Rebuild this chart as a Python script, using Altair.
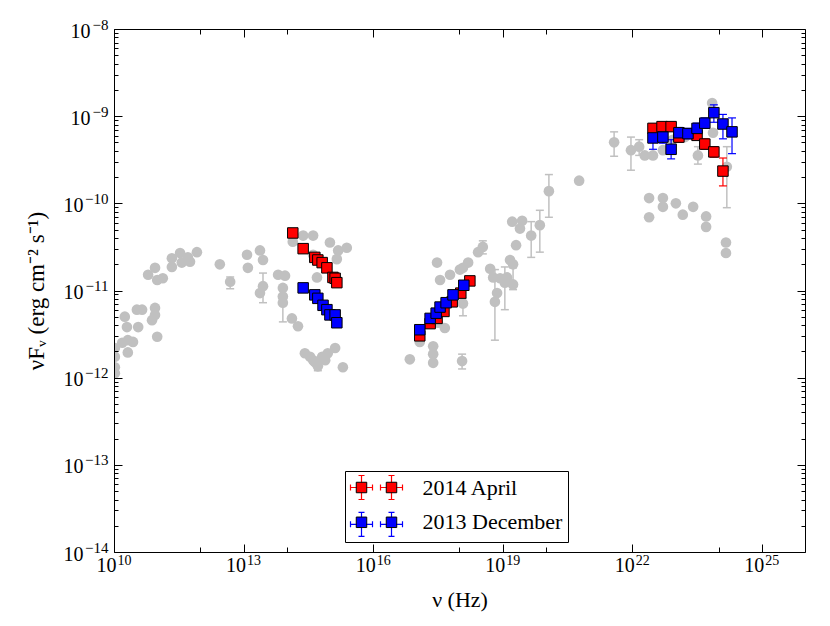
import altair as alt
import pandas as pd

# ---------------- data (log10 of nu [Hz] and log10 of nuFnu [erg cm^-2 s^-1]) ----------------
gray_lognu = [10.02, 10.02, 10.02, 10.02, 10.19, 10.32, 10.44, 10.32, 10.25, 10.30,
              10.53, 10.65, 10.56, 10.95, 10.95, 10.88, 11.00, 10.79, 10.95, 11.00,
              11.13, 11.34, 11.34, 11.53, 11.57, 11.71, 11.92, 11.76, 12.45, 12.69,
              13.08, 13.10, 13.38, 13.45, 13.45, 13.38, 13.80, 13.96, 13.91, 13.91,
              13.91, 14.12, 14.26, 14.14, 14.38, 14.61, 14.61, 14.70, 15.00, 15.19,
              15.39, 15.16, 14.42, 14.54, 14.65, 14.72, 14.82, 14.95, 15.12, 15.30,
              14.61, 14.89, 16.85, 17.08, 17.39, 17.39, 17.39, 18.06, 17.66, 17.50,
              18.08, 17.48, 17.55, 17.78, 18.01, 18.08, 18.20, 18.43, 18.54, 18.71,
              18.78, 18.94, 19.10, 19.05, 19.24, 18.87, 18.82, 19.17, 19.24, 19.31,
              19.22, 19.45, 19.40, 19.66, 19.86, 20.07, 20.77, 21.58, 21.97, 22.16,
              22.29, 22.48, 22.71, 23.85, 23.87, 23.52, 24.19, 22.39, 22.71, 22.71,
              23.01, 23.17, 23.41, 23.71, 23.71, 22.39, 24.17, 24.17, 23.22, 22.94]
gray_logf = [-11.66, -11.76, -11.88, -11.95, -11.60, -11.57, -11.59, -11.71, -11.30, -11.42,
             -11.22, -11.22, -11.42, -11.20, -11.28, -11.34, -11.53, -10.82, -10.74, -10.88,
             -10.86, -10.63, -10.73, -10.57, -10.68, -10.62, -10.56, -10.67, -10.70, -10.90,
             -10.59, -10.74, -10.54, -10.65, -10.95, -11.03, -10.82, -10.83, -10.97, -11.07,
             -11.14, -11.32, -11.41, -10.44, -10.37, -10.37, -10.59, -10.85, -10.45, -10.54,
             -10.51, -10.64, -11.72, -11.76, -11.82, -11.87, -11.76, -11.72, -11.66, -11.88,
             -11.80, -11.80, -11.79, -11.59, -11.64, -11.73, -11.83, -11.81, -11.43, -11.37,
             -11.15, -10.68, -10.88, -10.82, -10.76, -10.74, -10.68, -10.56, -10.50, -10.75,
             -10.85, -10.86, -10.85, -10.91, -10.93, -11.03, -11.13, -10.65, -10.70, -10.48,
             -10.21, -10.20, -10.29, -10.37, -10.25, -9.86, -9.74, -9.30, -9.39, -9.35,
             -9.45, -9.45, -9.39, -8.85, -9.19, -9.45, -9.58, -9.94, -9.94, -10.04,
             -10.00, -10.13, -10.04, -10.15, -10.27, -10.16, -10.45, -10.57, -9.24, -9.27]

gray_eb_lognu = [12.69, 13.45, 13.91, 14.72, 18.06, 18.08, 18.54, 19.05, 19.24, 18.82,
                 19.66, 19.86, 20.07, 21.58, 21.97, 22.16, 23.52, 24.19]
gray_eb_lo = [-10.98, -11.14, -11.36, -11.92, -11.90, -11.29, -10.58, -11.22, -10.99, -11.57,
              -10.62, -10.56, -10.16, -9.46, -9.62, -9.45, -9.55, -10.05]
gray_eb_hi = [-10.845, -10.80, -10.99, -11.82, -11.73, -11.09, -10.43, -10.73, -10.74, -10.76,
              -10.21, -10.08, -9.67, -9.18, -9.24, -9.27, -9.35, -9.35]

apr_lognu = [14.14, 14.38, 14.65, 14.72, 14.82, 14.93, 15.07, 15.12, 15.16,
             17.08, 17.32, 17.48, 17.64, 17.83, 18.03, 18.24,
             22.48, 22.69, 22.90, 23.08, 23.50, 23.68, 23.89, 24.10]
apr_logf = [-10.34, -10.52, -10.62, -10.65, -10.68, -10.74, -10.85, -10.86, -10.91,
            -11.52, -11.38, -11.32, -11.24, -11.13, -11.03, -10.89,
            -9.14, -9.12, -9.12, -9.24, -9.22, -9.32, -9.41, -9.63]
apr_eb_lognu = [22.48, 22.69, 22.90, 23.08, 23.50, 23.68, 23.89, 24.10]
apr_eb_lo = [-9.19, -9.17, -9.17, -9.30, -9.27, -9.38, -9.47, -9.80]
apr_eb_hi = [-9.09, -9.07, -9.07, -9.18, -9.17, -9.26, -9.35, -9.48]

dec_lognu = [14.38, 14.65, 14.72, 14.84, 14.93, 15.00, 15.12, 15.16,
             17.08, 17.32, 17.46, 17.55, 17.69, 17.85, 18.10,
             22.48, 22.71, 22.90, 23.08, 23.29, 23.50, 23.68, 23.89, 24.10, 24.31]
dec_logf = [-10.97, -11.05, -11.09, -11.17, -11.22, -11.28, -11.28, -11.37,
            -11.45, -11.32, -11.26, -11.19, -11.14, -11.05, -10.94,
            -9.25, -9.24, -9.38, -9.19, -9.20, -9.14, -9.08, -8.96, -9.09, -9.18]
dec_eb_lognu = [22.48, 22.71, 22.90, 23.08, 23.29, 23.50, 23.68, 23.89, 24.10, 24.31]
dec_eb_lo = [-9.38, -9.31, -9.49, -9.25, -9.26, -9.20, -9.14, -9.07, -9.26, -9.43]
dec_eb_hi = [-9.14, -9.17, -9.27, -9.13, -9.14, -9.08, -9.02, -8.87, -8.98, -9.02]

epochs = ["2014 April", "2013 December"]
epoch_err_keys = ["apr_err", "dec_err"]
epoch_colors = ["#ff0000", "#0000ff"]

x_major = [1e10, 1e13, 1e16, 1e19, 1e22, 1e25]
x_major_exps = ["10", "13", "16", "19", "22", "25"]
x_minor = [1e12, 1e14, 1e18, 1e20, 1e24]
y_major = [1e-14, 1e-13, 1e-12, 1e-11, 1e-10, 1e-9, 1e-8]
y_major_exps = ["−14", "−13", "−12", "−11", "−10", "−9", "−8"]
y_minor = [m * 10.0 ** e for e in range(-14, -8) for m in range(2, 10)]

# ---------------- tables ----------------
gray = pd.DataFrame({"nu": [10 ** v for v in gray_lognu], "f": [10 ** v for v in gray_logf]})
gray_eb = pd.DataFrame({"nu": [10 ** v for v in gray_eb_lognu],
                        "lo": [10 ** v for v in gray_eb_lo],
                        "hi": [10 ** v for v in gray_eb_hi]})

sq = pd.DataFrame({
    "nu": [10 ** v for v in apr_lognu] + [10 ** v for v in dec_lognu],
    "f": [10 ** v for v in apr_logf] + [10 ** v for v in dec_logf],
    "epoch": [epochs[0]] * len(apr_lognu) + [epochs[1]] * len(dec_lognu),
})
eb = pd.DataFrame({
    "nu": [10 ** v for v in apr_eb_lognu] + [10 ** v for v in dec_eb_lognu],
    "lo": [10 ** v for v in apr_eb_lo] + [10 ** v for v in dec_eb_lo],
    "hi": [10 ** v for v in apr_eb_hi] + [10 ** v for v in dec_eb_hi],
    "epoch_e": [epoch_err_keys[0]] * len(apr_eb_lognu) + [epoch_err_keys[1]] * len(dec_eb_lognu),
})
eb_caps = pd.DataFrame({"nu": list(eb["nu"]) * 2,
                        "y": list(eb["lo"]) + list(eb["hi"]),
                        "epoch_e": list(eb["epoch_e"]) * 2})

# ---------------- style ----------------
FONT = "Liberation Serif"
W, H = 691, 523
GRAY = "#c0c0c0"
xscale = alt.Scale(type="log", domain=[1e10, 1e26], nice=False)
yscale = alt.Scale(type="log", domain=[1e-14, 1e-8], nice=False)

x_exp_expr = "[" + ",".join("'%s'" % s for s in x_major_exps) + "][round((log(datum.value)/LN10 - 10)/3)]"
y_exp_expr = "[" + ",".join("'%s'" % s for s in y_major_exps) + "][round(log(datum.value)/LN10) + 14]"

LBL = dict(labelFont=FONT, labelColor="black", labelFlush=False, labelOverlap=False,
           grid=False, zindex=1)


def tick_axis(orient, offset, values, size, domain=False):
    return alt.Axis(orient=orient, offset=offset, values=values, labels=False, domain=domain,
                    domainColor="black", domainWidth=1, grid=False, ticks=True, tickColor="black",
                    tickWidth=1, tickSize=size, title=None, zindex=1)


# x axis: "10" base labels + exponent labels, inward ticks on bottom and top
axX_base = alt.Axis(orient="bottom", values=x_major, labelExpr="'10'", ticks=False, domain=True,
                    domainColor="black", domainWidth=1, labelFontSize=20, labelAlign="right",
                    labelBaseline="top", labelOffset=2, labelPadding=3,
                    title="ν (Hz)", titleFont=FONT, titleFontSize=22, titleFontWeight="normal",
                    titleColor="black", titleY=54, titleBaseline="alphabetic", **LBL)
axX_exp = alt.Axis(orient="bottom", values=x_major, labelExpr=x_exp_expr, ticks=False,
                   domain=False, labelFontSize=14, labelAlign="left", labelBaseline="top",
                   labelOffset=3, labelPadding=1, title=None, **LBL)
axX_t1 = tick_axis("top", -H, x_major, 8)
axX_t2 = tick_axis("top", -H, x_minor, 5)
axX_t3 = tick_axis("bottom", -H, x_major, 8, domain=True)
axX_t4 = tick_axis("bottom", -H, x_minor, 5)

# y axis: exponent labels, "10" labels (two paddings for 1- and 2-digit exponents), inward ticks
axY_exp = alt.Axis(orient="left", values=y_major, labelExpr=y_exp_expr, ticks=False, domain=True,
                   domainColor="black", domainWidth=1, labelFontSize=15, labelAlign="right",
                   labelBaseline="middle", labelOffset=-5, labelPadding=6,
                   title="νFᵥ (erg cm⁻² s⁻¹)", titleFont=FONT, titleFontSize=23,
                   titleFontWeight="normal", titleColor="black", titleAngle=270, titleX=-71,
                   titleAlign="center", titleBaseline="alphabetic", **LBL)
axY_base1 = alt.Axis(orient="left", values=y_major[5:], labelExpr="'10'", ticks=False,
                     domain=False, labelFontSize=20, labelAlign="right", labelBaseline="middle",
                     labelOffset=2, labelPadding=24, title=None, **LBL)
axY_base2 = alt.Axis(orient="left", values=y_major[:5], labelExpr="'10'", ticks=False,
                     domain=False, labelFontSize=20, labelAlign="right", labelBaseline="middle",
                     labelOffset=2, labelPadding=31, title=None, **LBL)
axY_t1 = tick_axis("right", -W, y_major, 8)
axY_t2 = tick_axis("right", -W, y_minor, 4)
axY_t3 = tick_axis("left", -W, y_major, 8, domain=True)
axY_t4 = tick_axis("left", -W, y_minor, 4)

# legend symbols (two markers per entry, like matplotlib numpoints=2)
SQ_SIZE = 110
r = SQ_SIZE ** 0.5 / 2
dx = 30 / r
hb, vb, cap = 11 / r, 12 / r, 3 / r


def sq_path(c):
    return f"M{c-1:.3f},-1L{c+1:.3f},-1L{c+1:.3f},1L{c-1:.3f},1Z"


def eb_path(c):
    return (f"M{c-hb:.3f},0L{c+hb:.3f},0M{c:.3f},{-vb:.3f}L{c:.3f},{vb:.3f}"
            f"M{c-hb:.3f},{-cap:.3f}L{c-hb:.3f},{cap:.3f}M{c+hb:.3f},{-cap:.3f}L{c+hb:.3f},{cap:.3f}"
            f"M{c-cap:.3f},{-vb:.3f}L{c+cap:.3f},{-vb:.3f}M{c-cap:.3f},{vb:.3f}L{c+cap:.3f},{vb:.3f}")


# degenerate points so that both legend symbols share the same bounds
extent = f"M{-hb:.3f},{-vb:.3f}L{-hb:.3f},{-vb:.3f}M{dx+hb:.3f},{vb:.3f}L{dx+hb:.3f},{vb:.3f}"

LEG_COMMON = dict(orient="none", legendX=231, legendY=442, title=None, padding=5.5,
                  symbolSize=SQ_SIZE, symbolOffset=0, labelOffset=50, rowPadding=6.8,
                  labelFont=FONT, labelFontSize=22, labelLimit=400, labelColor="black")
LEG_SQ = alt.Legend(symbolType=sq_path(0) + sq_path(dx) + extent, symbolStrokeColor="black",
                    symbolStrokeWidth=1, strokeColor="black", cornerRadius=0, **LEG_COMMON)
LEG_EB = alt.Legend(symbolType=eb_path(0) + eb_path(dx) + extent, symbolStrokeWidth=1.2,
                    labelExpr="''", **LEG_COMMON)

sq_scale = alt.Scale(domain=epochs, range=epoch_colors)
eb_scale = alt.Scale(domain=epoch_err_keys, range=epoch_colors)
CAP = "M-1,0L1,0"

gx = lambda f, ax: alt.X(f"{f}:Q", scale=xscale, axis=ax)
gy = lambda f, ax: alt.Y(f"{f}:Q", scale=yscale, axis=ax)

l_gray_eb = alt.Chart(gray_eb).mark_rule(color=GRAY, strokeWidth=1.5).encode(
    x=gx("nu", axX_base), y=gy("lo", axY_exp), y2="hi:Q")
l_gray_cap_lo = alt.Chart(gray_eb).mark_point(shape=CAP, size=64, filled=False, stroke=GRAY,
                                              strokeWidth=1.5, opacity=1).encode(
    x=gx("nu", axX_exp), y=gy("lo", axY_base1))
l_gray_cap_hi = alt.Chart(gray_eb).mark_point(shape=CAP, size=64, filled=False, stroke=GRAY,
                                              strokeWidth=1.5, opacity=1).encode(
    x=gx("nu", axX_t1), y=gy("hi", axY_base2))
l_gray = alt.Chart(gray).mark_circle(size=113, color=GRAY, opacity=1, clip=True).encode(
    x=gx("nu", axX_t2), y=gy("f", axY_t1))
l_eb = alt.Chart(eb).mark_rule(strokeWidth=1.2).encode(
    x=gx("nu", axX_t3), y=gy("lo", axY_t2), y2="hi:Q",
    color=alt.Color("epoch_e:N", scale=eb_scale, legend=LEG_EB))
l_eb_caps = alt.Chart(eb_caps).mark_point(shape=CAP, size=64, filled=False, strokeWidth=1.2,
                                          opacity=1).encode(
    x=gx("nu", axX_t4), y=gy("y", axY_t3),
    color=alt.Color("epoch_e:N", scale=eb_scale, legend=LEG_EB))
l_sq = alt.Chart(sq).mark_point(shape="square", filled=True, size=SQ_SIZE, stroke="black",
                                strokeWidth=1, opacity=1).encode(
    x=gx("nu", None), y=gy("f", axY_t4),
    fill=alt.Fill("epoch:N", scale=sq_scale, legend=LEG_SQ))

chart = alt.layer(l_gray_eb, l_gray_cap_lo, l_gray_cap_hi, l_gray, l_eb, l_eb_caps, l_sq).resolve_axis(
    x="independent", y="independent"
).properties(
    width=W, height=H,
    padding={"left": 106, "top": 21, "right": 17, "bottom": 75},
    autosize=alt.AutoSizeParams(type="none"),
    background="white",
).configure_view(strokeWidth=0)

chart.save("out.html", embed_options={"renderer": "svg", "actions": False})
